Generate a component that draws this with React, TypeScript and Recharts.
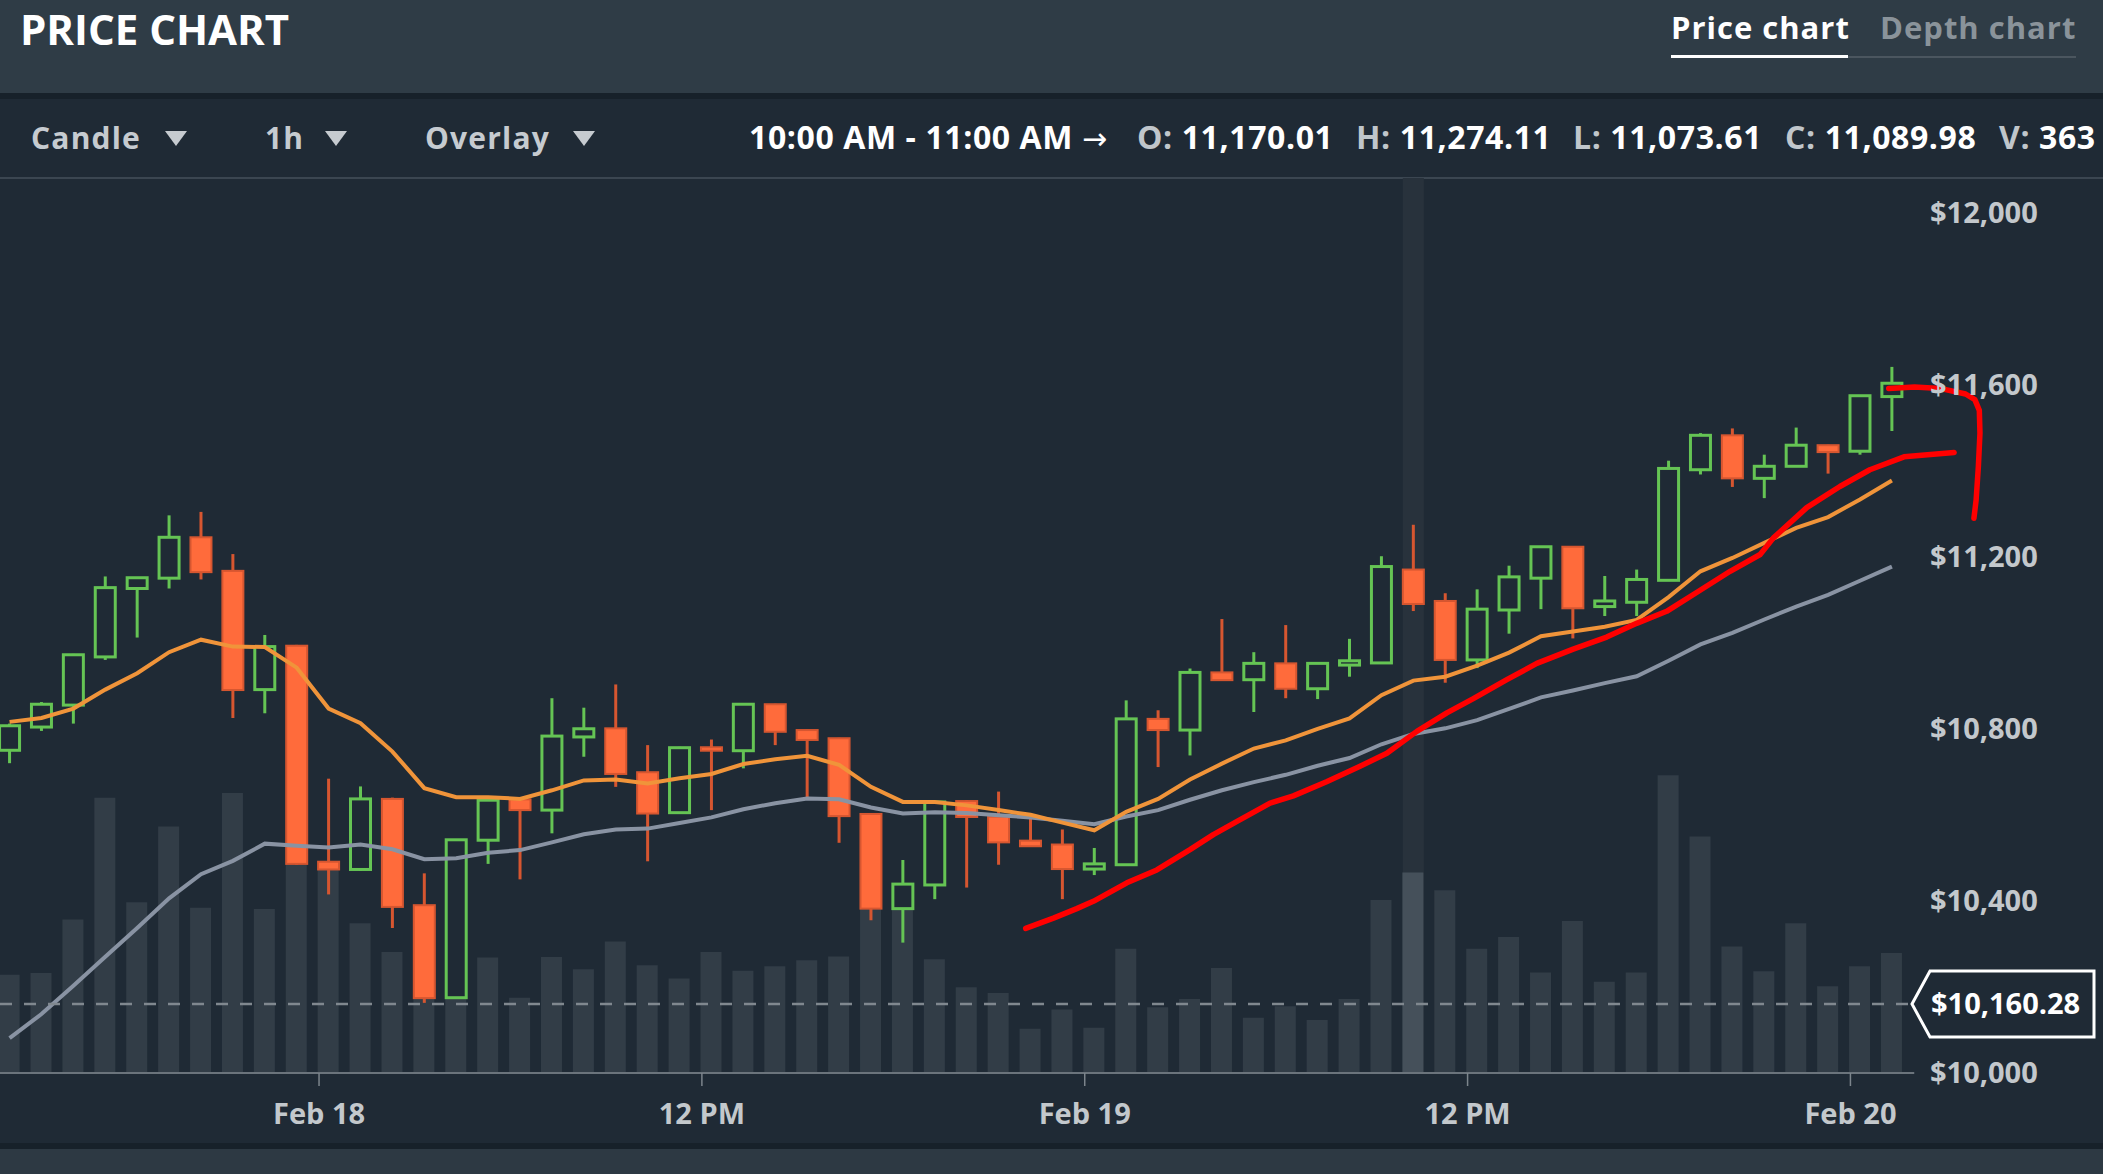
import React from 'react';
import {
  ComposedChart, Bar, Line, Scatter, XAxis, YAxis,
  ReferenceLine, ReferenceArea, Cell,
} from 'recharts';

// hourly candles; hour 0 = Feb 18 00:00
const FIRST_HOUR = -10;
const CANDLE_SHIFT = 0.3;
const HOVER_HOUR = 34;

const OPEN = [
  10750, 10804, 10855, 10967, 11126, 11150, 11245, 11167, 10891, 10993,
  10491, 10473, 10637, 10390, 10175, 10541, 10636, 10611, 10781, 10801,
  10699, 10605, 10757, 10749, 10857, 10797, 10778, 10602, 10382, 10437,
  10632, 10596, 10540, 10531, 10474, 10484, 10823, 10797, 10931, 10914,
  10952, 10893, 10948, 10953, 11170.01, 11097, 10960, 11076, 11150, 11223,
  11084, 11094, 11145, 11402, 11482, 11382, 11410, 11459, 11445, 11572,
];
const HIGH = [
  10812, 10862, 10974, 11154, 11152, 11296, 11304, 11206, 11018, 10995,
  10684, 10666, 10640, 10464, 10543, 10636, 10640, 10871, 10849, 10903,
  10762, 10758, 10775, 10858, 10858, 10798, 10779, 10603, 10495, 10632,
  10634, 10654, 10596, 10566, 10523, 10866, 10843, 10940, 11055, 10978,
  11041, 10955, 11009, 11201, 11274.11, 11115, 11124, 11179, 11224, 11224,
  11155, 11170, 11423, 11487, 11498, 11437, 11500, 11460, 11575, 11641,
];
const LOW = [
  10720, 10795, 10812, 10960, 11012, 11126, 11147, 10825, 10836, 10484,
  10415, 10470, 10337, 10163, 10173, 10486, 10450, 10557, 10735, 10665,
  10492, 10603, 10611, 10708, 10762, 10636, 10535, 10355, 10303, 10404,
  10431, 10484, 10526, 10404, 10460, 10483, 10711, 10738, 10912, 10839,
  10871, 10869, 10921, 10952, 11073.61, 10907, 10941, 11021, 11078, 11010,
  11062, 11062, 11144, 11391, 11362, 11336, 11409, 11393, 11437, 11492,
];
const CLOSE = [
  10807, 10857, 10972, 11128, 11151, 11245, 11164, 10890, 10991, 10486,
  10473, 10637, 10386, 10174, 10542, 10634, 10611, 10783, 10800, 10695,
  10603, 10756, 10749, 10857, 10793, 10774, 10597, 10382, 10439, 10630,
  10595, 10536, 10527, 10474, 10486, 10823, 10797, 10931, 10913, 10952,
  10893, 10952, 10958, 11177, 11089.98, 10960, 11078, 11153, 11223, 11080,
  11097, 11147, 11405, 11482, 11382, 11410, 11459, 11443, 11574, 11603,
];
const VOLUME = [
  178, 181, 278, 498, 309, 446, 299, 507, 297, 420,
  375, 271, 219, 200, 180, 209, 136, 210, 188, 238,
  195, 171, 219, 185, 193, 204, 211, 320, 310, 206,
  155, 145, 80, 115, 82, 225, 119, 134, 190, 100,
  121, 96, 134, 313, 363, 331, 225, 246, 182, 275,
  165, 182, 539, 428, 229, 184, 271, 157, 193, 217,
];
const MA_FAST = [
  10816, 10825, 10847, 10891, 10929, 10978, 11007, 10991, 10990, 10942,
  10847, 10813, 10747, 10662, 10641, 10641, 10637, 10657, 10680, 10682,
  10673, 10685, 10695, 10718, 10729, 10737, 10716, 10665, 10630, 10630,
  10622, 10611, 10600, 10582, 10564, 10607, 10637, 10682, 10719, 10754,
  10773, 10800, 10824, 10878, 10912, 10921, 10947, 10977, 11015, 11026,
  11037, 11053, 11106, 11166, 11197, 11232, 11267, 11292, 11333, 11377,
];
const MA_SLOW = [
  10081, 10137, 10203, 10270, 10337, 10406, 10462, 10493, 10533, 10528,
  10524, 10531, 10520, 10497, 10499, 10512, 10518, 10536, 10555, 10566,
  10568, 10581, 10594, 10613, 10627, 10638, 10636, 10617, 10603, 10606,
  10604, 10599, 10594, 10586, 10578, 10596, 10611, 10635, 10657, 10676,
  10693, 10714, 10732, 10764, 10788, 10801, 10820, 10846, 10873, 10889,
  10906, 10922, 10958, 10996, 11023, 11054, 11084, 11111, 11144, 11177,
];

const LAST_PRICE = 10160.28;
const PRICE_TICKS = [10000, LAST_PRICE, 10400, 10800, 11200, 11600, 12000];
const TICK_HOURS = [0, 12, 24, 36, 48];
const TICK_LABELS = ['Feb 18', '12 PM', 'Feb 19', '12 PM', 'Feb 20'];

// freehand red marks (hour, price)
const TREND_T = [
  22.15, 23.02, 23.75, 24.27, 25.32, 26.26, 27.3, 28.03, 28.76, 29.81, 30.54,
  31.58, 32.63, 33.47, 34.41, 35.35, 36.18, 37.23, 38.17, 39.31, 40.36, 41.3,
  42.24, 43.29, 44.23, 45.17, 45.58, 46.63, 47.67, 48.61, 49.68, 51.25,
];
const TREND_P = [
  10336, 10360, 10382, 10399, 10442, 10472, 10519, 10554, 10584, 10627, 10644,
  10677, 10713, 10743, 10794, 10837, 10870, 10914, 10952, 10985, 11013, 11045,
  11073, 11122, 11166, 11205, 11243, 11314, 11363, 11402, 11432, 11442,
];
const BRACKET_T = [49.2, 50.01, 50.81, 51.61, 51.9, 52.04, 52.06, 52.01, 51.94, 51.87];
const BRACKET_P = [11591, 11594, 11591, 11578, 11565, 11540, 11487, 11409, 11332, 11289];

const FONT = '"Open Sans", "DejaVu Sans", sans-serif';
const BG = '#1f2a35';
const GREEN = '#65c454';
const RED = '#ff6b3b';
const RED_EDGE = '#d65630';
const AXIS_TEXT = '#c3c8cc';
const BODY_W = 23;

const rows = OPEN.map((o, i) => ({
  t: FIRST_HOUR + i + CANDLE_SHIFT,
  open: o,
  high: HIGH[i],
  low: LOW[i],
  close: CLOSE[i],
  volume: VOLUME[i],
  maFast: MA_FAST[i],
  maSlow: MA_SLOW[i],
}));
const trend = TREND_T.map((t, i) => ({ t, p: TREND_P[i] }));
const bracket = BRACKET_T.map((t, i) => ({ t, p: BRACKET_P[i] }));

const hoverIdx = HOVER_HOUR - FIRST_HOUR;
const hoverT = HOVER_HOUR + CANDLE_SHIFT;

const money = (v: number) => v.toLocaleString('en-US', { minimumFractionDigits: 2, maximumFractionDigits: 2 });
const usd = (v: number) => '$' + v.toLocaleString('en-US', { maximumFractionDigits: 2 });
const clock = (h: number) => `${((h % 24) + 11) % 12 + 1}:00 ${h % 24 < 12 ? 'AM' : 'PM'}`;

// range bar [low, high] -> wick + body, open/close placed on the same linear scale
function Candle(props: any) {
  const { x, y, width, height, payload } = props;
  const { open, close, high, low } = payload;
  const top = Math.min(y, y + height);
  const bot = Math.max(y, y + height);
  const py = (v: number) => top + ((high - v) / (high - low)) * (bot - top);
  const cx = x + (width || 0) / 2;
  const left = cx - BODY_W / 2;
  const bTop = py(Math.max(open, close));
  const bBot = py(Math.min(open, close));
  const bh = Math.max(bBot - bTop, 3);
  if (close >= open) {
    return (
      <g>
        <line x1={cx} x2={cx} y1={top} y2={bot} stroke={GREEN} strokeWidth={3} />
        <rect x={left + 1.5} y={bTop} width={BODY_W - 3} height={bh} fill={BG} stroke={GREEN} strokeWidth={3} />
      </g>
    );
  }
  return (
    <g>
      <line x1={cx} x2={cx} y1={top} y2={bot} stroke={RED_EDGE} strokeWidth={3} />
      <rect x={left + 1} y={bTop} width={BODY_W - 2} height={bh} fill={RED} stroke={RED_EDGE} strokeWidth={2} />
    </g>
  );
}

function TimeTick({ x, y, payload }: any) {
  return (
    <text x={x} y={y + 38} textAnchor="middle" fill={AXIS_TEXT} fontSize={29} fontWeight={700} fontFamily={FONT}>
      {TICK_LABELS[TICK_HOURS.indexOf(payload.value)]}
    </text>
  );
}

function PriceTick({ x, y, payload }: any) {
  const left = x - 64;
  if (payload.value === LAST_PRICE) {
    const pts = `${left - 18},${y} ${left},${y - 33} ${x + 100},${y - 33} ${x + 100},${y + 33} ${left},${y + 33}`;
    return (
      <g>
        <polygon points={pts} fill={BG} stroke="#ffffff" strokeWidth={3} />
        <text x={left + 1} y={y} dy="0.36em" fill="#ffffff" fontSize={29} fontWeight={700} fontFamily={FONT}>
          {usd(payload.value)}
        </text>
      </g>
    );
  }
  return (
    <text x={left} y={y} dy="0.36em" fill={AXIS_TEXT} fontSize={29} fontWeight={700} fontFamily={FONT}>
      {usd(payload.value)}
    </text>
  );
}

function Caret({ left }: { left: number }) {
  return (
    <div style={{
      position: 'absolute', left, top: 131, width: 0, height: 0,
      borderLeft: '11px solid transparent', borderRight: '11px solid transparent',
      borderTop: '15px solid #c6cbd0',
    }} />
  );
}

const abs = (left: number, top: number, extra: React.CSSProperties = {}): React.CSSProperties => ({
  position: 'absolute', left, top, lineHeight: 1, whiteSpace: 'nowrap', fontWeight: 700, ...extra,
});

export default function App() {
  const hv = rows[hoverIdx];
  const stats: [string, string, number][] = [
    ['O:', money(hv.open), 1137],
    ['H:', money(hv.high), 1356],
    ['L:', money(hv.low), 1573],
    ['C:', money(hv.close), 1785],
    ['V:', String(hv.volume), 1999],
  ];
  return (
    <div style={{ position: 'relative', width: 2103, height: 1174, overflow: 'hidden', background: BG, fontFamily: FONT }}>
      <style>{'body{margin:0}'}</style>

      {/* header */}
      <div style={{ position: 'absolute', left: 0, top: 0, width: 2103, height: 93, background: '#2f3c46' }} />
      <div style={abs(20, 8, { fontSize: 42, color: '#ffffff' })}>PRICE CHART</div>
      <div style={abs(1671, 12, { fontSize: 31, letterSpacing: 1, color: '#ffffff' })}>Price chart</div>
      <div style={abs(1880, 12, { fontSize: 31, letterSpacing: 1, color: '#8a939a' })}>Depth chart</div>
      <div style={{ position: 'absolute', left: 1671, top: 55, width: 177, height: 3, background: '#ffffff' }} />
      <div style={{ position: 'absolute', left: 1848, top: 55.5, width: 228, height: 2, background: '#4b565f' }} />
      <div style={{ position: 'absolute', left: 0, top: 93, width: 2103, height: 6, background: '#17212a' }} />

      {/* toolbar */}
      <div style={abs(31, 123, { fontSize: 30, letterSpacing: 1.2, color: '#c6cbd0' })}>Candle</div>
      <Caret left={165} />
      <div style={abs(265, 123, { fontSize: 30, letterSpacing: 1.2, color: '#c6cbd0' })}>1h</div>
      <Caret left={325} />
      <div style={abs(425, 123, { fontSize: 30, letterSpacing: 1.2, color: '#c6cbd0' })}>Overlay</div>
      <Caret left={573} />
      <div style={abs(749, 121, { fontSize: 32, letterSpacing: 0.6, color: '#ffffff' })}>
        {`${clock(HOVER_HOUR)} - ${clock(HOVER_HOUR + 1)} `}
        <span style={{ fontWeight: 400, fontFamily: '"DejaVu Sans", sans-serif', fontSize: 30, letterSpacing: 0 }}>→</span>
      </div>
      {stats.map(([k, v, left]) => (
        <div key={k} style={abs(left, 121, { fontSize: 32, letterSpacing: 0.6, color: '#ffffff' })}>
          <span style={{ color: '#c0c6cb' }}>{k}</span> {v}
        </div>
      ))}
      <div style={{ position: 'absolute', left: 0, top: 177, width: 2103, height: 2, background: '#3b4651' }} />

      {/* chart */}
      <div style={{ position: 'absolute', left: 0, top: 178 }}>
        <ComposedChart width={2103} height={965} data={rows} margin={{ top: 0, right: 0, bottom: 0, left: 0 }}>
          <XAxis
            xAxisId="t" dataKey="t" type="number" domain={[-10, 52.5]} allowDataOverflow
            ticks={TICK_HOURS} interval={0} height={70} axisLine={false}
            tickLine={{ stroke: '#7c858c', strokeWidth: 1.5 }} tickSize={13} tickMargin={0}
            tick={(p: any) => <TimeTick {...p} />}
          />
          <XAxis xAxisId="v" dataKey="t" type="number" domain={[-10, 52.5]} allowDataOverflow hide />
          <YAxis
            yAxisId="p" orientation="right" width={109} domain={[10000, 12080]} allowDataOverflow
            ticks={PRICE_TICKS} interval={0} axisLine={false} tickLine={false} tickSize={0} tickMargin={0}
            tick={(p: any) => <PriceTick {...p} />}
          />
          <YAxis yAxisId="vol" domain={[0, 1620]} allowDataOverflow hide />

          <ReferenceArea
            xAxisId="t" yAxisId="p" x1={hoverT - 0.33} x2={hoverT + 0.33}
            y1={10000} y2={12080} fill="#28323c" fillOpacity={1} stroke="none"
          />
          <Bar xAxisId="v" yAxisId="vol" dataKey="volume" barSize={21} isAnimationActive={false}>
            {rows.map((_, i) => (
              <Cell key={i} fill={i === hoverIdx ? '#45505a' : '#323d47'} />
            ))}
          </Bar>
          <Line xAxisId="t" yAxisId="p" dataKey="maSlow" type="linear" stroke="#8993a3" strokeWidth={4} dot={false} activeDot={false} isAnimationActive={false} />
          <Line xAxisId="t" yAxisId="p" dataKey="maFast" type="linear" stroke="#f0943a" strokeWidth={4} dot={false} activeDot={false} isAnimationActive={false} />
          <ReferenceLine
            xAxisId="t" yAxisId="p"
            segment={[{ x: -10, y: LAST_PRICE }, { x: 50, y: LAST_PRICE }]}
            stroke="#80888f" strokeWidth={2.5} strokeDasharray="12 12"
          />
          <Bar
            xAxisId="t" yAxisId="p" dataKey={(d: any) => [d.low, d.high]} barSize={BODY_W}
            shape={(p: any) => <Candle {...p} />} isAnimationActive={false}
          />
          <ReferenceLine
            xAxisId="t" yAxisId="p"
            segment={[{ x: -10, y: 10000 }, { x: 50, y: 10000 }]}
            stroke="#6b747c" strokeWidth={2}
          />
          <Scatter
            xAxisId="t" yAxisId="p" data={trend} dataKey="p"
            line={{ stroke: '#ff0000', strokeWidth: 5.5, strokeLinecap: 'round', strokeLinejoin: 'round' }}
            shape={() => <g />} isAnimationActive={false}
          />
          <Scatter
            xAxisId="t" yAxisId="p" data={bracket} dataKey="p"
            line={{ stroke: '#ff0000', strokeWidth: 5.5, strokeLinecap: 'round', strokeLinejoin: 'round' }}
            shape={() => <g />} isAnimationActive={false}
          />
        </ComposedChart>
      </div>

      <div style={{ position: 'absolute', left: 0, top: 1143, width: 2103, height: 6, background: '#17212a' }} />
      <div style={{ position: 'absolute', left: 0, top: 1149, width: 2103, height: 25, background: '#2d3943' }} />
    </div>
  );
}
